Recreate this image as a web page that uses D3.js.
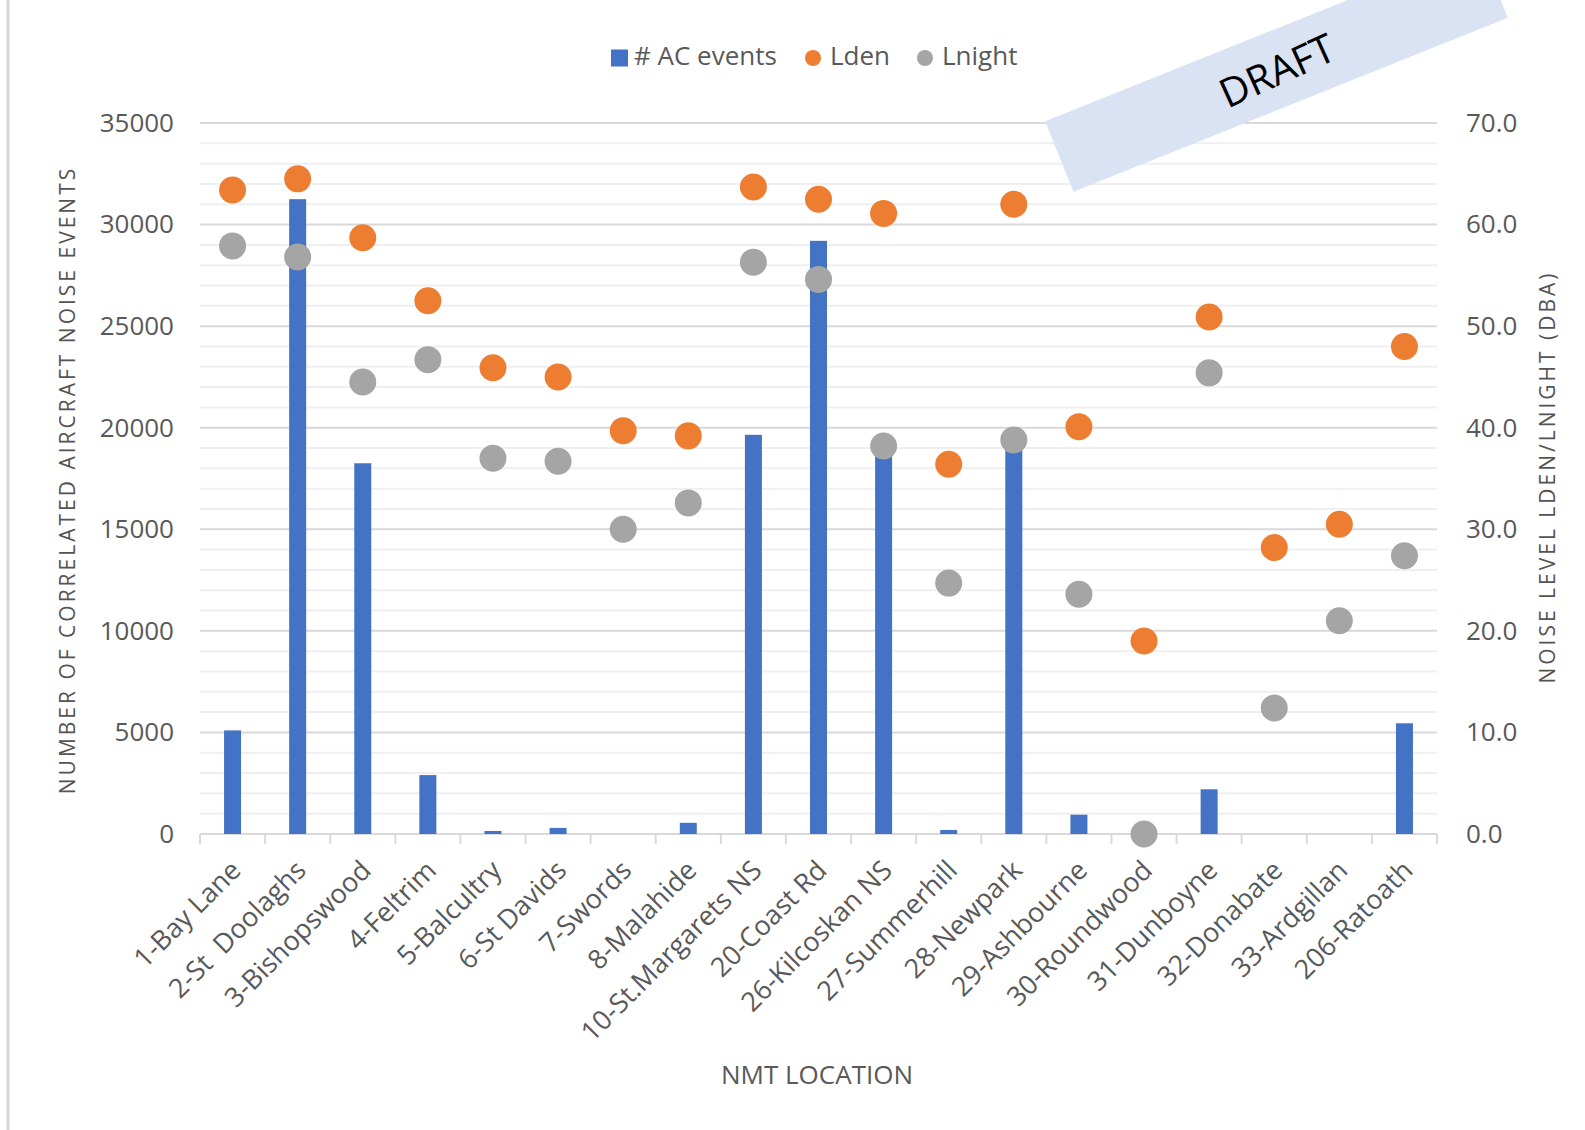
<!DOCTYPE html>
<html>
<head>
<meta charset="utf-8">
<script src="https://cdn.jsdelivr.net/npm/d3@7"></script>
<style>
  html, body { margin: 0; padding: 0; background: #ffffff; }
  svg { display: block; font-family: "Open Sans", "Noto Sans", sans-serif; }
  .xlabel { white-space: pre; }
</style>
</head>
<body>
<svg id="chart" width="1585" height="1130"></svg>
<script>
// NMT locations along the x axis
const locations = [
  "1-Bay Lane", "2-St  Doolaghs", "3-Bishopswood", "4-Feltrim", "5-Balcultry",
  "6-St Davids", "7-Swords", "8-Malahide", "10-St.Margarets NS", "20-Coast Rd",
  "26-Kilcoskan NS", "27-Summerhill", "28-Newpark", "29-Ashbourne", "30-Roundwood",
  "31-Dunboyne", "32-Donabate", "33-Ardgillan", "206-Ratoath"
];

// Number of correlated aircraft noise events (left axis)
const acEvents = [5100, 31250, 18250, 2900, 150, 300, 0, 550, 19650, 29200,
                  19000, 200, 19400, 950, 0, 2200, 0, 0, 5450];

// Noise levels in dB(A) (right axis)
const lden   = [63.4, 64.5, 58.7, 52.5, 45.9, 45.0, 39.7, 39.2, 63.7, 62.5,
                61.1, 36.4, 62.0, 40.1, 19.0, 50.9, 28.2, 30.5, 48.0];
const lnight = [57.9, 56.8, 44.5, 46.7, 37.0, 36.7, 30.0, 32.6, 56.3, 54.6,
                38.2, 24.7, 38.8, 23.6, 0.0, 45.4, 12.4, 21.0, 27.4];

// Axis ticks
const leftTicks  = [0, 5000, 10000, 15000, 20000, 25000, 30000, 35000];
const rightTicks = [0, 10, 20, 30, 40, 50, 60, 70];

const seriesNames = ["# AC events", "Lden", "Lnight"];
const colors = { bar: "#4472C4", lden: "#ED7D31", lnight: "#A5A5A5" };
const textColor = "#595959";

const svg = d3.select("#chart");
const plot = { left: 200, right: 1437, top: 123, bottom: 834 };

const x = d3.scaleBand().domain(locations).range([plot.left, plot.right]).padding(0);
const yLeft = d3.scaleLinear().domain([0, 35000]).range([plot.bottom, plot.top]);
const yRight = d3.scaleLinear().domain([0, 70]).range([plot.bottom, plot.top]);

// Frame line on the left edge
svg.append("line")
  .attr("x1", 8).attr("x2", 8).attr("y1", 0).attr("y2", 1130)
  .attr("stroke", "#d6d6d6").attr("stroke-width", 3);

// Minor gridlines every 1000 events
const minor = d3.range(1000, 35000, 1000).filter(v => v % 5000 !== 0);
svg.append("g").selectAll("line").data(minor).join("line")
  .attr("x1", plot.left).attr("x2", plot.right)
  .attr("y1", d => yLeft(d)).attr("y2", d => yLeft(d))
  .attr("stroke", "#efefef").attr("stroke-width", 2);

// Major gridlines
svg.append("g").selectAll("line").data(leftTicks.filter(d => d > 0)).join("line")
  .attr("x1", plot.left).attr("x2", plot.right)
  .attr("y1", d => yLeft(d)).attr("y2", d => yLeft(d))
  .attr("stroke", "#d9d9d9").attr("stroke-width", 2);

// Left axis labels
const leftAxis = d3.axisLeft(yLeft).tickValues(leftTicks).tickSize(0).tickPadding(26)
  .tickFormat(d3.format("d"));
const gl = svg.append("g").attr("transform", `translate(${plot.left},0)`).call(leftAxis);
gl.select(".domain").remove();
gl.selectAll("text").attr("fill", textColor).style("font-size", "26px")
  .style("font-family", "'Open Sans', sans-serif");

// Right axis labels
const rightAxis = d3.axisRight(yRight).tickValues(rightTicks).tickSize(0).tickPadding(29)
  .tickFormat(d3.format(".1f"));
const gr = svg.append("g").attr("transform", `translate(${plot.right},0)`).call(rightAxis);
gr.select(".domain").remove();
gr.selectAll("text").attr("fill", textColor).style("font-size", "26px")
  .style("font-family", "'Open Sans', sans-serif");

// Bottom axis line with tick marks at category boundaries
const bx = svg.append("g");
bx.append("line")
  .attr("x1", plot.left).attr("x2", plot.right)
  .attr("y1", plot.bottom).attr("y2", plot.bottom)
  .attr("stroke", "#d9d9d9").attr("stroke-width", 2);
const boundaries = locations.map(d => x(d)).concat([plot.right]);
bx.selectAll("line.tick").data(boundaries).join("line").attr("class", "tick")
  .attr("x1", d => d).attr("x2", d => d)
  .attr("y1", plot.bottom).attr("y2", plot.bottom + 10)
  .attr("stroke", "#d9d9d9").attr("stroke-width", 2);

// Category labels, rotated
svg.append("g").selectAll("text").data(locations).join("text")
  .attr("class", "xlabel")
  .attr("transform", d => `translate(${x(d) + x.bandwidth() / 2 + 10},${plot.bottom + 38}) rotate(-45)`)
  .attr("text-anchor", "end")
  .attr("fill", textColor)
  .style("font-size", "27px")
  .text(d => d);

// Bars: aircraft events
const barW = 17;
svg.append("g").selectAll("rect").data(locations).join("rect")
  .attr("x", (d, i) => x(d) + x.bandwidth() / 2 - barW / 2)
  .attr("y", (d, i) => yLeft(acEvents[i]))
  .attr("width", barW)
  .attr("height", (d, i) => plot.bottom - yLeft(acEvents[i]))
  .attr("fill", colors.bar);

// Lden markers
const r = 13.5;
svg.append("g").selectAll("circle").data(locations).join("circle")
  .attr("cx", d => x(d) + x.bandwidth() / 2)
  .attr("cy", (d, i) => yRight(lden[i]))
  .attr("r", r).attr("fill", colors.lden);

// Lnight markers
svg.append("g").selectAll("circle").data(locations).join("circle")
  .attr("cx", d => x(d) + x.bandwidth() / 2)
  .attr("cy", (d, i) => yRight(lnight[i]))
  .attr("r", r).attr("fill", colors.lnight);

// Axis titles
svg.append("text")
  .attr("transform", "translate(69,480) rotate(-90)")
  .attr("text-anchor", "middle").attr("dominant-baseline", "middle")
  .attr("fill", "#545454").style("font-size", "21px").style("letter-spacing", "3px")
  .style("font-weight", "500")
  .text("NUMBER OF CORRELATED AIRCRAFT NOISE EVENTS");

svg.append("text")
  .attr("transform", "translate(1549,477) rotate(-90)")
  .attr("text-anchor", "middle").attr("dominant-baseline", "middle")
  .attr("fill", "#545454").style("font-size", "21px").style("letter-spacing", "3px")
  .style("font-weight", "500")
  .text("NOISE LEVEL LDEN/LNIGHT (DBA)");

svg.append("text")
  .attr("x", 817).attr("y", 1077)
  .attr("text-anchor", "middle").attr("dominant-baseline", "middle")
  .attr("fill", textColor).style("font-size", "26px")
  .text("NMT LOCATION");

// Legend
const legend = svg.append("g").attr("transform", "translate(0,58)");
legend.append("rect").attr("x", 611).attr("y", -8.5).attr("width", 17).attr("height", 17)
  .attr("fill", colors.bar);
legend.append("text").attr("x", 634).attr("y", 0).attr("dominant-baseline", "middle")
  .attr("fill", textColor).style("font-size", "26px").text(seriesNames[0]);
legend.append("circle").attr("cx", 813).attr("cy", 0).attr("r", 8).attr("fill", colors.lden);
legend.append("text").attr("x", 830).attr("y", 0).attr("dominant-baseline", "middle")
  .attr("fill", textColor).style("font-size", "26px").text(seriesNames[1]);
legend.append("circle").attr("cx", 925).attr("cy", 0).attr("r", 8).attr("fill", colors.lnight);
legend.append("text").attr("x", 942).attr("y", 0).attr("dominant-baseline", "middle")
  .attr("fill", textColor).style("font-size", "26px").text(seriesNames[2]);

// Draft banner across the top-right corner
const banner = svg.append("g").attr("transform", "translate(1276.5,69.5) rotate(-21.85)");
banner.append("rect").attr("x", -234).attr("y", -38).attr("width", 468).attr("height", 76)
  .attr("fill", "#DAE3F3");
banner.append("text")
  .attr("transform", "rotate(-2.5)")
  .attr("text-anchor", "middle").attr("dominant-baseline", "central")
  .attr("fill", "#000000").style("font-size", "40px")
  .text("DRAFT");
</script>
</body>
</html>
